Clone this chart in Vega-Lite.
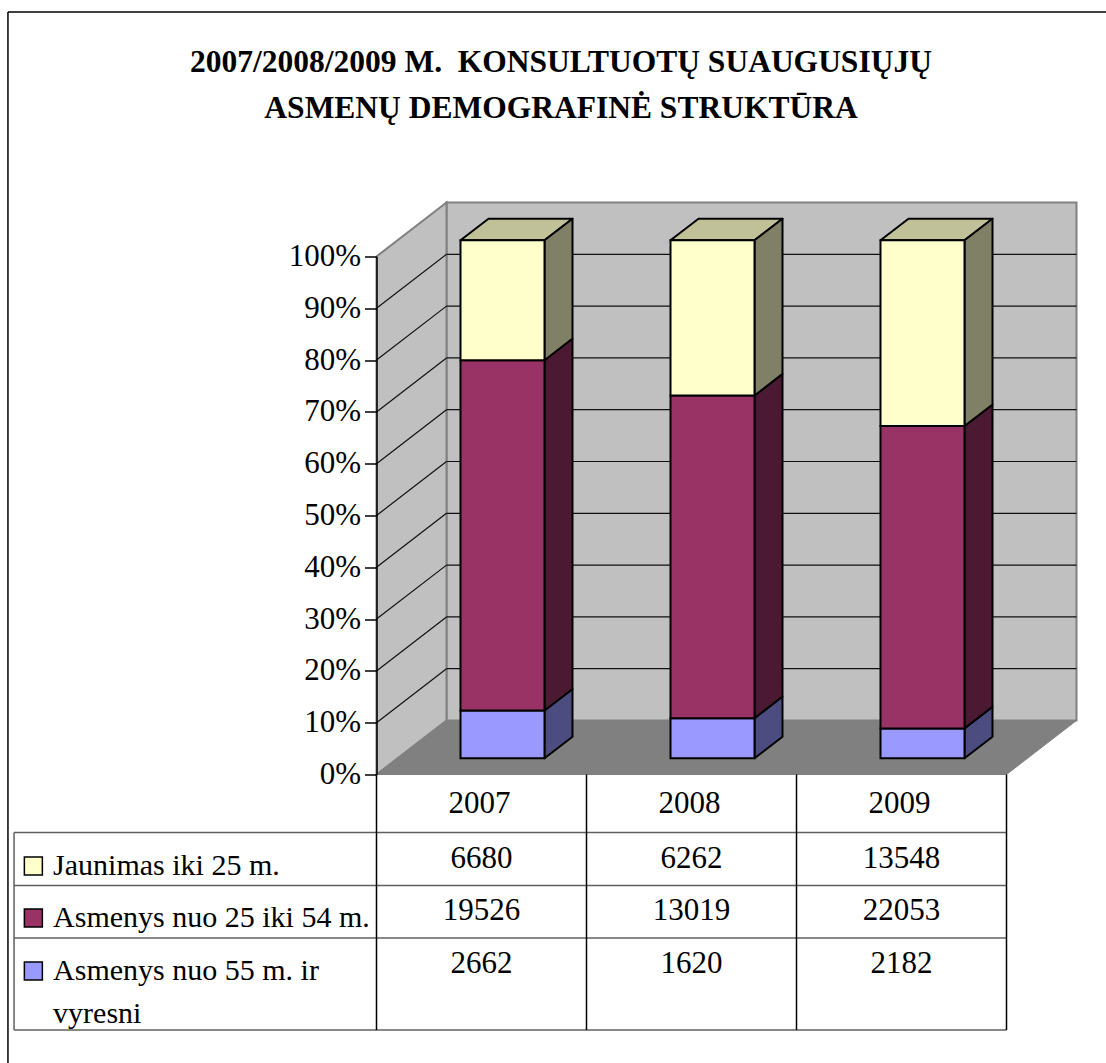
{
"$schema":"https://vega.github.io/schema/vega-lite/v6.json",
"width":630,"height":518,
"autosize":"none",
"padding":{"left":376.5,"top":256.5,"right":99.5,"bottom":288.5},
"background":"white",
"config":{"view":{"stroke":null},"font":"Liberation Serif"},
"title":{"text":["2007/2008/2009 M.\u00a0 KONSULTUOTŲ SUAUGUSIŲJŲ","ASMENŲ DEMOGRAFINĖ STRUKTŪRA"],"anchor":"middle","frame":"group","dx":-130.5,"offset":-113,"font":"Liberation Serif","fontSize":31.5,"fontWeight":"bold","lineHeight":46,"color":"black"},
"datasets":{
"rows":[
{"year":2007,"idx":0,"series":"Asmenys nuo 55 m. ir vyresni","order":0,"row":3,"value":2662},
{"year":2007,"idx":0,"series":"Asmenys nuo 25 iki 54 m.","order":1,"row":2,"value":19526},
{"year":2007,"idx":0,"series":"Jaunimas iki 25 m.","order":2,"row":1,"value":6680},
{"year":2008,"idx":1,"series":"Asmenys nuo 55 m. ir vyresni","order":0,"row":3,"value":1620},
{"year":2008,"idx":1,"series":"Asmenys nuo 25 iki 54 m.","order":1,"row":2,"value":13019},
{"year":2008,"idx":1,"series":"Jaunimas iki 25 m.","order":2,"row":1,"value":6262},
{"year":2009,"idx":2,"series":"Asmenys nuo 55 m. ir vyresni","order":0,"row":3,"value":2182},
{"year":2009,"idx":2,"series":"Asmenys nuo 25 iki 54 m.","order":1,"row":2,"value":22053},
{"year":2009,"idx":2,"series":"Jaunimas iki 25 m.","order":2,"row":1,"value":13548}
],
"depth":[{"z":0},{"z":1}],
"levels":[{"level":0.1},{"level":0.2},{"level":0.3},{"level":0.4},{"level":0.5},{"level":0.6},{"level":0.7},{"level":0.8},{"level":0.9}],
"years":[{"year":"2007","idx":0},{"year":"2008","idx":1},{"year":"2009","idx":2}],
"labels":[{"series":"Jaunimas iki 25 m.","label":"Jaunimas iki 25 m.","row":1},{"series":"Asmenys nuo 25 iki 54 m.","label":"Asmenys nuo 25 iki 54 m.","row":2},{"series":"Asmenys nuo 55 m. ir vyresni","label":"Asmenys nuo 55 m. ir\nvyresni","row":3}],
"hlines":[{"line":1},{"line":2},{"line":3},{"line":4}],
"vlines":[{"col":0},{"col":1},{"col":2},{"col":3}]
},
"layer":[
{"data":{"name":"levels"},"mark":{"type":"rule","opacity":0},
 "encoding":{"y":{"field":"level","type":"quantitative","scale":{"domain":[0,1]},"axis":{"values":[0,0.1,0.2,0.3,0.4,0.5,0.6,0.7,0.8,0.9,1],"format":".0%","title":null,"grid":false,"tickSize":12,"tickColor":"black","tickWidth":1.5,"domainColor":"black","domainWidth":1.5,"labelFont":"Liberation Serif","labelFontSize":31,"labelColor":"black","labelPadding":4,"zindex":1}}}},
{"layer":[
{"data":{"values":[{}]},"mark":{"type":"rule","stroke":"black","strokeWidth":1.5},
 "encoding":{"x":{"datum":-1.755,"type":"quantitative","scale":{"domain":[0,3]},"axis":null},"y":{"datum":-0.557,"type":"quantitative","scale":{"domain":[0,1]},"axis":null},"y2":{"datum":1.472}}},
{"data":{"values":[{}]},"mark":{"type":"rule","stroke":"black","strokeWidth":1.5},
 "encoding":{"x":{"datum":-1.755,"type":"quantitative","scale":{"domain":[0,3]},"axis":null},"x2":{"datum":3.474},"y":{"datum":1.472,"type":"quantitative","scale":{"domain":[0,1]},"axis":null}}},
{"data":{"values":[{}]},"mark":{"type":"rect","fill":"#c0c0c0","stroke":"#808080","strokeWidth":2},
 "encoding":{"x":{"datum":0.3333,"type":"quantitative","scale":{"domain":[0,3]},"axis":null},"x2":{"datum":3.3333},"y":{"datum":0.1042,"type":"quantitative","scale":{"domain":[0,1]},"axis":null},"y2":{"datum":1.1042}}},
{"data":{"name":"depth"},"transform":[{"calculate":"datum.z/3","as":"wx"},{"calculate":"datum.z*0.1042","as":"wy0"},{"calculate":"1+datum.z*0.1042","as":"wy1"}],
 "mark":{"type":"area","fill":"#c0c0c0","stroke":"#808080","strokeWidth":2},
 "encoding":{"x":{"field":"wx","type":"quantitative","scale":{"domain":[0,3]},"axis":null},"y":{"field":"wy0","type":"quantitative","scale":{"domain":[0,1]},"axis":null},"y2":{"field":"wy1"}}},
{"data":{"name":"depth"},"transform":[{"calculate":"datum.z/3","as":"fx0"},{"calculate":"3+datum.z/3","as":"fx1"},{"calculate":"datum.z*0.1042","as":"fy"}],
 "mark":{"type":"area","orient":"horizontal","fill":"#808080","stroke":"#808080","strokeWidth":1},
 "encoding":{"x":{"field":"fx0","type":"quantitative","scale":{"domain":[0,3]},"axis":null},"x2":{"field":"fx1"},"y":{"field":"fy","type":"quantitative","scale":{"domain":[0,1]},"axis":null}}},
{"data":{"name":"levels"},"transform":[{"calculate":"datum.level+0.1042","as":"backy"}],
 "mark":{"type":"rule","stroke":"#111111","strokeWidth":1.2},
 "encoding":{"x":{"datum":0,"type":"quantitative","scale":{"domain":[0,3]},"axis":null},"x2":{"datum":0.3333},"y":{"field":"level","type":"quantitative","scale":{"domain":[0,1]},"axis":null},"y2":{"field":"backy"}}},
{"data":{"name":"levels"},"transform":[{"calculate":"datum.level+0.1042","as":"backy"}],
 "mark":{"type":"rule","stroke":"#111111","strokeWidth":1.2},
 "encoding":{"x":{"datum":0.3333,"type":"quantitative","scale":{"domain":[0,3]},"axis":null},"x2":{"datum":3.3333},"y":{"field":"backy","type":"quantitative","scale":{"domain":[0,1]},"axis":null}}},
{"data":{"name":"rows"},"transform":[
 {"stack":"value","groupby":["year"],"sort":[{"field":"order"}],"offset":"normalize","as":["p0","p1"]},
 {"filter":"datum.order==2"},
 {"calculate":"[0.3,0.7]","as":"z"},{"flatten":["z"]},
 {"calculate":"datum.idx+0.3+datum.z/3","as":"tx0"},{"calculate":"datum.idx+0.7+datum.z/3","as":"tx1"},{"calculate":"1+datum.z*0.1042","as":"ty"}],
 "mark":{"type":"area","orient":"horizontal","fill":"#c0c099","stroke":"black","strokeWidth":2,"strokeJoin":"round"},
 "encoding":{"x":{"field":"tx0","type":"quantitative","scale":{"domain":[0,3]},"axis":null},"x2":{"field":"tx1"},"y":{"field":"ty","type":"quantitative","scale":{"domain":[0,1]},"axis":null},"detail":{"field":"year"}}},
{"data":{"name":"rows"},"transform":[
 {"stack":"value","groupby":["year"],"sort":[{"field":"order"}],"offset":"normalize","as":["p0","p1"]},
 {"calculate":"[0.3,0.7]","as":"z"},{"flatten":["z"]},
 {"calculate":"datum.idx+0.7+datum.z/3","as":"sx"},{"calculate":"datum.p0+datum.z*0.1042","as":"sy0"},{"calculate":"datum.p1+datum.z*0.1042","as":"sy1"},
 {"calculate":"datum.series+' (šonas)'","as":"face"}],
 "mark":{"type":"area","stroke":"black","strokeWidth":2,"strokeJoin":"round"},
 "encoding":{"x":{"field":"sx","type":"quantitative","scale":{"domain":[0,3]},"axis":null},"y":{"field":"sy0","type":"quantitative","scale":{"domain":[0,1]},"axis":null},"y2":{"field":"sy1"},
 "fill":{"field":"face","type":"nominal","legend":null,"scale":{"domain":["Jaunimas iki 25 m.","Asmenys nuo 25 iki 54 m.","Asmenys nuo 55 m. ir vyresni","Jaunimas iki 25 m. (šonas)","Asmenys nuo 25 iki 54 m. (šonas)","Asmenys nuo 55 m. ir vyresni (šonas)"],"range":["#ffffcc","#993366","#9999ff","#808066","#4c1933","#4c4c80"]}},"detail":{"field":"year"}}},
{"data":{"name":"rows"},"transform":[
 {"stack":"value","groupby":["year"],"sort":[{"field":"order"}],"offset":"normalize","as":["p0","p1"]},
 {"calculate":"datum.idx+0.4","as":"bx0"},{"calculate":"datum.idx+0.8","as":"bx1"},{"calculate":"datum.p0+0.03126","as":"by0"},{"calculate":"datum.p1+0.03126","as":"by1"}],
 "mark":{"type":"rect","stroke":"black","strokeWidth":2},
 "encoding":{"x":{"field":"bx0","type":"quantitative","scale":{"domain":[0,3]},"axis":null},"x2":{"field":"bx1"},"y":{"field":"by0","type":"quantitative","scale":{"domain":[0,1]},"axis":null},"y2":{"field":"by1"},
 "fill":{"field":"series","type":"nominal","legend":null}}}
]},
{"layer":[
{"data":{"name":"hlines"},"mark":{"type":"rule","stroke":"#606060","strokeWidth":1.5},
 "encoding":{"x":{"datum":-1.726,"type":"quantitative","scale":{"domain":[0,3]},"axis":null},"x2":{"datum":3},"y":{"field":"line","type":"quantitative","axis":null,"scale":{"domain":[0,1,2,3,4],"range":[518,576,629,681.6,773.6]}}}},
{"data":{"values":[{}]},"mark":{"type":"rule","stroke":"#606060","strokeWidth":1.5},
 "encoding":{"x":{"datum":-1.726,"type":"quantitative","scale":{"domain":[0,3]},"axis":null},"y":{"datum":1,"type":"quantitative","axis":null,"scale":{"domain":[0,1,2,3,4],"range":[518,576,629,681.6,773.6]}},"y2":{"datum":4}}},
{"data":{"name":"vlines"},"mark":{"type":"rule","stroke":"black","strokeWidth":1.5},
 "encoding":{"x":{"field":"col","type":"quantitative","scale":{"domain":[0,3]},"axis":null},"y":{"datum":0,"type":"quantitative","axis":null,"scale":{"domain":[0,1,2,3,4],"range":[518,576,629,681.6,773.6]}},"y2":{"datum":4}}}
]},
{"layer":[
{"data":{"name":"years"},"transform":[{"calculate":"datum.idx+0.5","as":"cx"}],"mark":{"type":"text","font":"Liberation Serif","fontSize":31,"color":"black","align":"center","baseline":"alphabetic","dx":-2},
 "encoding":{"x":{"field":"cx","type":"quantitative","scale":{"domain":[0,3]},"axis":null},"y":{"datum":0,"type":"quantitative","axis":null,"scale":{"domain":[0,1,2,3],"range":[556.5,618.5,670.5,723.5]}},"text":{"field":"year","type":"nominal"}}},
{"data":{"name":"rows"},"transform":[{"calculate":"datum.idx+0.5","as":"cx"}],"mark":{"type":"text","font":"Liberation Serif","fontSize":31,"color":"black","align":"center","baseline":"alphabetic","dy":-7.5},
 "encoding":{"x":{"field":"cx","type":"quantitative","scale":{"domain":[0,3]},"axis":null},"y":{"field":"row","type":"quantitative","axis":null,"scale":{"domain":[0,1,2,3],"range":[556.5,618.5,670.5,723.5]}},"text":{"field":"value","type":"quantitative","format":"d"}}},
{"data":{"name":"labels"},"mark":{"type":"text","font":"Liberation Serif","fontSize":30,"color":"black","align":"left","baseline":"alphabetic","lineBreak":"\n","lineHeight":43},
 "encoding":{"x":{"datum":-1.54,"type":"quantitative","scale":{"domain":[0,3]},"axis":null},"y":{"field":"row","type":"quantitative","axis":null,"scale":{"domain":[0,1,2,3],"range":[556.5,618.5,670.5,723.5]}},"text":{"field":"label","type":"nominal"}}},
{"data":{"name":"labels"},"mark":{"type":"point","shape":"square","filled":true,"size":324,"stroke":"black","strokeWidth":1.5,"opacity":1,"yOffset":-9},
 "encoding":{"x":{"datum":-1.634,"type":"quantitative","scale":{"domain":[0,3]},"axis":null},"y":{"field":"row","type":"quantitative","axis":null,"scale":{"domain":[0,1,2,3],"range":[556.5,618.5,670.5,723.5]}},"fill":{"field":"series","type":"nominal","legend":null}}}
]}
],
"resolve":{"scale":{"y":"independent"},"axis":{"y":"independent"}}
}
